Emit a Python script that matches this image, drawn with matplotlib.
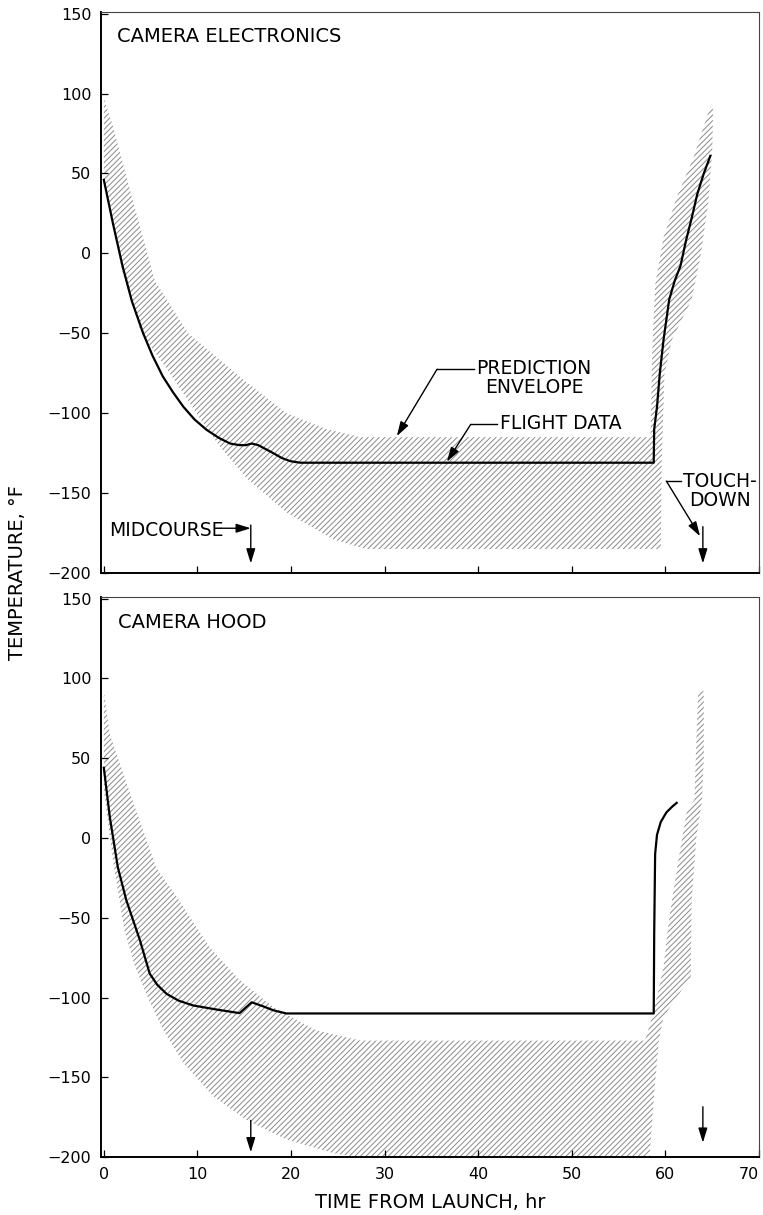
import matplotlib
matplotlib.use("Agg")
import matplotlib.pyplot as plt

plt.rcParams['font.family'] = ['DejaVu Sans']
plt.rcParams['hatch.linewidth'] = 0.7

# ---- camera electronics (top) ----
elec_t = [0, 1, 2, 3, 4.2, 5.2, 6.3, 7.4, 8.5, 9.7, 11.0, 12.3, 13.5, 14.5, 15.2, 15.8,
          16.5, 17.3, 18.1, 19.0, 19.9, 21.0, 30, 40, 50, 58.75, 58.8, 59.1, 59.4,
          59.8, 60.4, 61.0, 61.6, 62.2, 62.8, 63.4, 64.1, 64.8]
elec_temp = [46, 18, -8, -30, -50, -64, -77, -87, -96, -104, -110.5, -115.5, -119, -120,
             -120, -119, -120, -122.5, -125, -128, -130, -131, -131, -131, -131, -131,
             -110, -96, -75, -54, -29, -17, -8, 8, 22, 37, 50, 61]

elec_env_t = [0, 1, 3.1, 5.45, 9, 14.9, 19.5, 23.8, 27.4, 58.4, 58.6, 58.9, 59.8, 61.2,
              63, 64.8, 65.1, 65, 64.6, 63.8, 62.8, 60.7, 59.9, 59.6, 59.5, 28, 24.5,
              19.5, 15.3, 12.4, 9.9, 6.7, 4, 2, 0]
elec_env_temp = [97, 79, 33, -17, -50, -79, -100, -110, -115, -115, -60, -20, 10, 35,
                 60, 92, 90, 64, 33, 0, -29, -54, -75, -131, -185, -185, -179,
                 -162, -141, -121, -100, -72, -50, -12, 45]

# ---- camera hood (bottom) ----
hood_t = [0, 0.64, 1.5, 2.4, 3.85, 4.9, 5.7, 6.7, 8.0, 9.55, 12.0, 14.5, 15.8, 17.0,
          18.1, 19.5, 30, 40, 50, 58.75, 58.8, 58.9, 59.1, 59.5, 60.1, 60.7, 61.2]
hood_temp = [44, 13, -18.5, -39, -64, -85, -92, -97.7, -102, -105, -107.5, -109.8,
             -103, -105.5, -108, -110, -110, -110, -110, -110, -60, -10, 2, 10, 16,
             19.5, 22]

hood_env_t = [0, 0.64, 3.1, 5.6, 7.8, 11.3, 14.5, 18.1, 22.7, 27.4, 57.8, 58.7, 59.8,
              60.3, 60.7, 61.5, 62.3, 63.1, 63.3, 63.5, 64.1, 64.1, 63.9, 63.3, 62.8,
              62.7, 59.8, 59.3, 58.8, 58.3, 27, 24.5, 19.5, 15.3, 11.7, 8.5, 6.3, 4.7,
              3.3, 2.2, 1, 0]
hood_env_temp = [92, 65, 23, -18.5, -37, -68.5, -89, -106, -120.6, -127, -127, -110,
                 -81, -55, -39, -10, 17, 24, 60, 92, 92, 50, 23, 0, -39, -87, -112, -127,
                 -160, -200, -200, -197.5, -189, -177, -162, -141, -120, -100, -80,
                 -58, -15, 30]

x_ticks = [0, 10, 20, 30, 40, 50, 60, 70]
y_ticks = [-200, -150, -100, -50, 0, 50, 100, 150]

midcourse_t = 15.7
touchdown_t = 64.0

hatch_color = '#8a8a8a'
arrow_kw = dict(arrowstyle='-|>,head_length=0.55,head_width=0.17', color='black',
                lw=1.0, shrinkA=0, shrinkB=0, mutation_scale=16)

fig = plt.figure(figsize=(7.63, 12.15), dpi=100)
ax1 = fig.add_axes([0.1324, 0.5284, 0.8624, 0.4617])
ax2 = fig.add_axes([0.1324, 0.0477, 0.8624, 0.4609])


def style_axes(ax, show_xlabels):
    ax.set_xlim(-0.3, 70)
    ax.set_ylim(-200, 151)
    ax.set_xticks(x_ticks)
    ax.set_yticks(y_ticks)
    ax.set_yticklabels([str(v).replace('-', '\u2212') for v in y_ticks])
    ax.tick_params(direction='in', length=5, width=0.9, labelsize=11.5, pad=7)
    if not show_xlabels:
        ax.tick_params(axis='x', labelbottom=False)
    else:
        ax.set_xticklabels([str(v) for v in x_ticks])
        ax.get_xticklabels()[-1].set_horizontalalignment('right')
    for side in ['left', 'bottom']:
        ax.spines[side].set_linewidth(1.4)
    for side in ['top', 'right']:
        ax.spines[side].set_linewidth(0.8)
        ax.spines[side].set_color('#444444')


def arrow(ax, start, tip):
    ax.annotate('', xy=tip, xytext=start, arrowprops=arrow_kw)


# top panel
ax1.fill(elec_env_t, elec_env_temp, facecolor='none', edgecolor=hatch_color,
         hatch='//////', linewidth=0)
ax1.plot(elec_t, elec_temp, color='black', lw=1.6)
style_axes(ax1, False)
ax1.text(0.024, 0.957, 'CAMERA ELECTRONICS', transform=ax1.transAxes,
         fontsize=14, va='center', ha='left')

ax1.text(39.8, -78, 'PREDICTION\nENVELOPE', fontsize=13.5, ha='left', va='center',
         multialignment='center', linespacing=1.0)
ax1.plot([39.6, 35.6], [-72.5, -72.5], color='black', lw=1.0)
arrow(ax1, (35.6, -72.5), (31.3, -114.4))

ax1.text(42.3, -106.5, 'FLIGHT DATA', fontsize=13.5, ha='left', va='center')
ax1.plot([42.0, 39.2], [-107, -107], color='black', lw=1.0)
arrow(ax1, (39.2, -107), (36.65, -130.4))

ax1.text(61.9, -149, 'TOUCH-\nDOWN', fontsize=13.5, ha='left', va='center',
         multialignment='center', linespacing=1.0)
ax1.plot([61.7, 60.1], [-142.5, -142.5], color='black', lw=1.0)
arrow(ax1, (60.1, -142.5), (touchdown_t - 0.3, -177))
arrow(ax1, (touchdown_t, -171), (touchdown_t, -194))

ax1.text(0.6, -173.4, 'MIDCOURSE', fontsize=13.5, ha='left', va='center')
arrow(ax1, (12.6, -172), (midcourse_t, -172))
arrow(ax1, (midcourse_t, -170), (midcourse_t, -194))

# bottom panel
ax2.fill(hood_env_t, hood_env_temp, facecolor='none', edgecolor=hatch_color,
         hatch='//////', linewidth=0)
ax2.plot(hood_t, hood_temp, color='black', lw=1.6)
style_axes(ax2, True)
ax2.text(0.026, 0.954, 'CAMERA HOOD', transform=ax2.transAxes,
         fontsize=14, va='center', ha='left')
arrow(ax2, (midcourse_t, -177), (midcourse_t, -197))
arrow(ax2, (touchdown_t, -168.5), (touchdown_t, -191))

fig.text(18 / 763, 1 - 572 / 1215, 'TEMPERATURE, \u00b0F', rotation=90,
         fontsize=14, ha='center', va='center')
fig.text(430 / 763, 1 - 1203 / 1215, 'TIME FROM LAUNCH, hr', fontsize=14,
         ha='center', va='center')

fig.savefig('out.png', dpi=100)
